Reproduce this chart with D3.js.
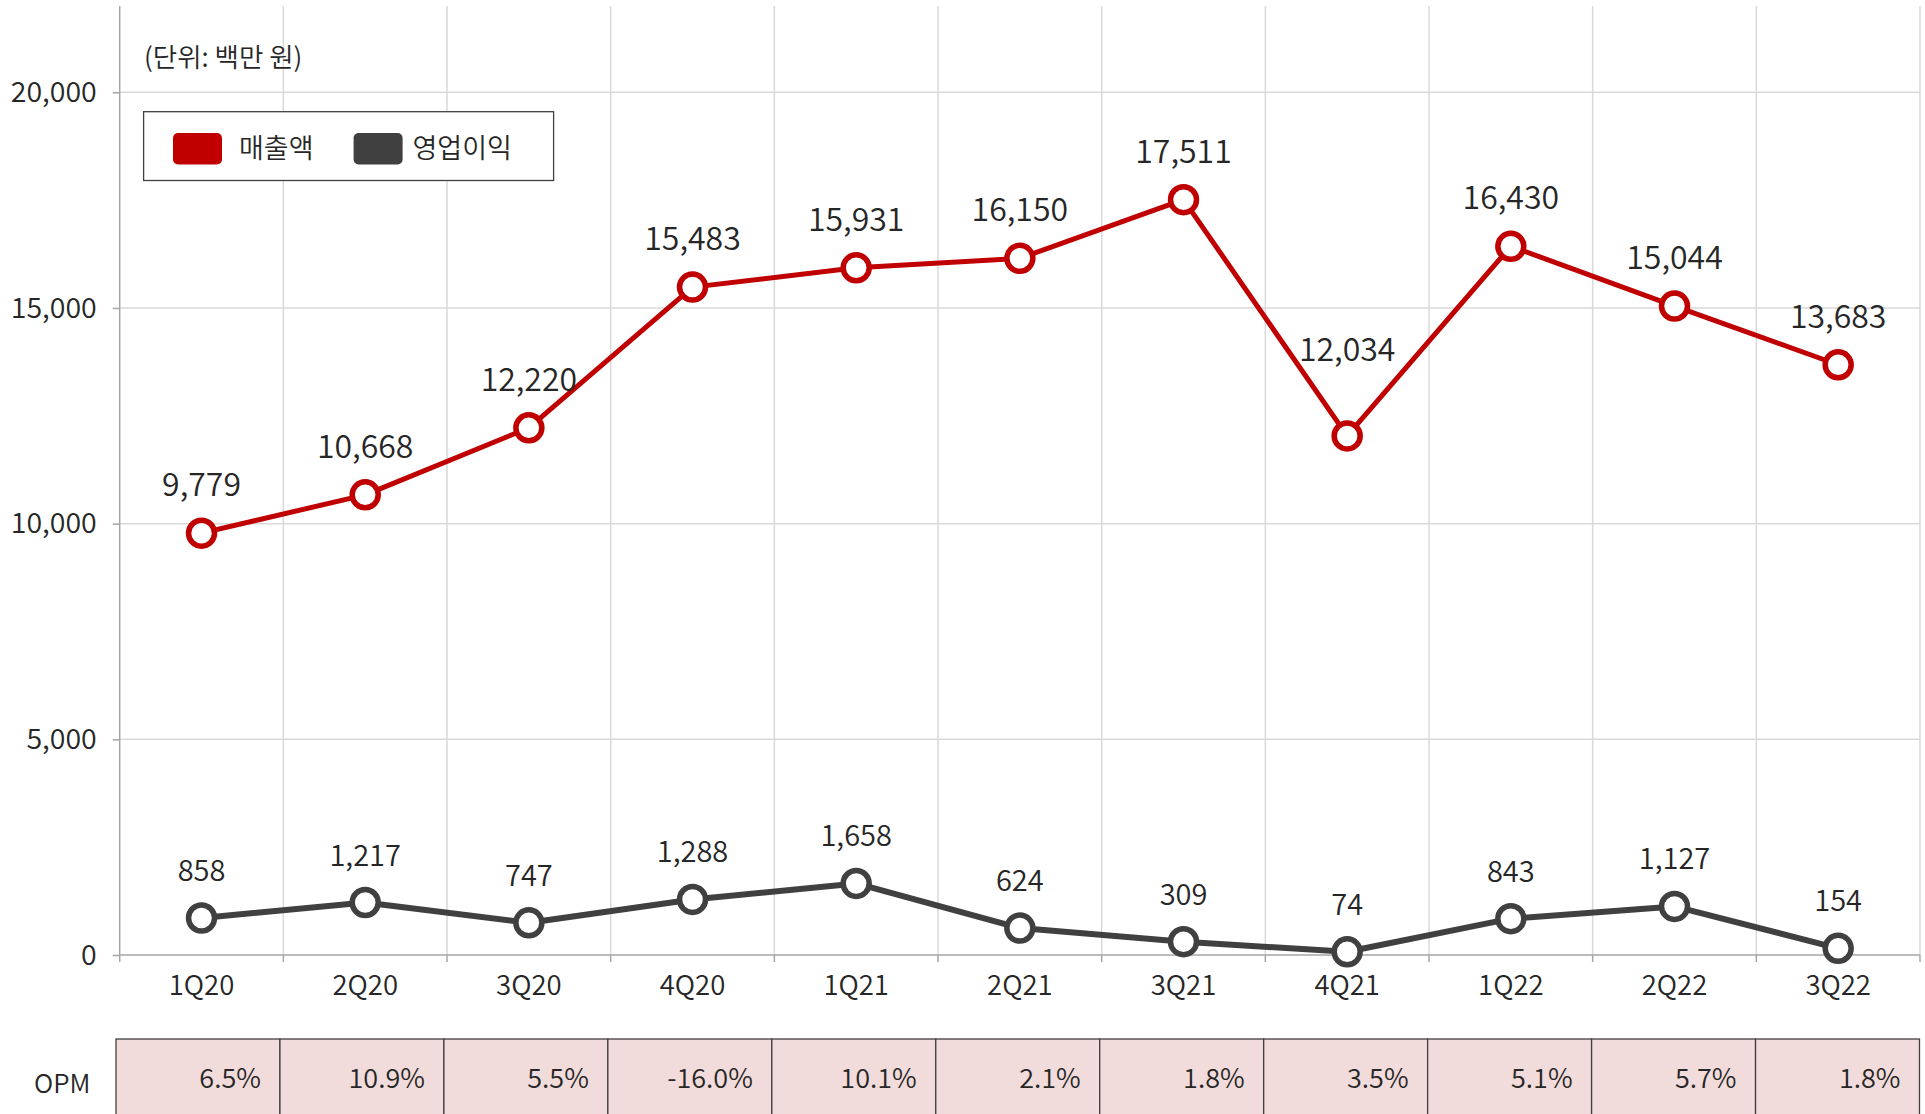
<!DOCTYPE html>
<html>
<head>
<meta charset="utf-8">
<script src="https://cdn.jsdelivr.net/npm/d3@7"></script>
<style>
  html, body { margin: 0; padding: 0; background: #fff; }
  svg { display: block; font-family: "Noto Sans CJK KR", "Noto Sans", sans-serif; }
  svg text { font-weight: 350; }
</style>
</head>
<body>
<svg id="chart" width="1925" height="1114"></svg>
<script>
const categories = ["1Q20","2Q20","3Q20","4Q20","1Q21","2Q21","3Q21","4Q21","1Q22","2Q22","3Q22"];
const revenue = [9779, 10668, 12220, 15483, 15931, 16150, 17511, 12034, 16430, 15044, 13683];
const opProfit = [858, 1217, 747, 1288, 1658, 624, 309, 74, 843, 1127, 154];
const opm = ["6.5%","10.9%","5.5%","-16.0%","10.1%","2.1%","1.8%","3.5%","5.1%","5.7%","1.8%"];
const yTicks = [0, 5000, 10000, 15000, 20000];
const seriesNames = ["매출액", "영업이익"];
const unitLabel = "(단위: 백만 원)";
const colors = ["#c00000", "#404040"];

(function () {
const svg = d3.select("#chart");
const pLeft = 119.7, pRight = 1920, pTop = 6, pBottom = 955;

const x = d3.scaleBand().domain(categories).range([pLeft, pRight]).padding(0);
const y = d3.scaleLinear().domain([0, 22000]).range([pBottom, pTop]);
const xt = d3.scaleBand().domain(categories).range([116, 1919.5]).padding(0);

// horizontal gridlines
svg.append("g").selectAll("line").data(yTicks.filter(d => d > 0)).join("line")
  .attr("x1", pLeft).attr("x2", pRight)
  .attr("y1", d => y(d)).attr("y2", d => y(d))
  .attr("stroke", "#d9d9d9").attr("stroke-width", 1.5);

// vertical gridlines at category boundaries
const bounds = categories.map(c => x(c) + x.bandwidth());
svg.append("g").selectAll("line").data(bounds).join("line")
  .attr("x1", d => d).attr("x2", d => d)
  .attr("y1", pTop).attr("y2", pBottom)
  .attr("stroke", "#d9d9d9").attr("stroke-width", 1.5);

// y axis
const yAxis = svg.append("g").attr("transform", `translate(${pLeft},0)`)
  .call(d3.axisLeft(y).tickValues(yTicks).tickSize(7).tickPadding(16).tickFormat(d3.format(",")));
yAxis.select(".domain").attr("stroke", "#a6a6a6").attr("stroke-width", 1.5)
  .attr("d", `M0,${pTop}V${pBottom}`);
yAxis.selectAll(".tick line").attr("stroke", "#a6a6a6").attr("stroke-width", 1.5);
yAxis.selectAll(".tick text").attr("fill", "#262626").style("font-size", "28.5px")
  .style("font-family", "'Noto Sans CJK KR', sans-serif");

// x axis line
svg.append("line").attr("x1", pLeft).attr("x2", pRight).attr("y1", pBottom).attr("y2", pBottom)
  .attr("stroke", "#a6a6a6").attr("stroke-width", 1.5);
svg.append("g").selectAll("line").data([pLeft, ...bounds]).join("line")
  .attr("x1", d => d).attr("x2", d => d).attr("y1", pBottom).attr("y2", pBottom + 7)
  .attr("stroke", "#a6a6a6").attr("stroke-width", 1.5);

const xAxis = svg.append("g").attr("transform", `translate(0,${pBottom})`)
  .call(d3.axisBottom(x).tickSize(0).tickPadding(20));
xAxis.select(".domain").remove();
xAxis.selectAll(".tick text").attr("fill", "#262626").style("font-size", "27.5px")
  .style("font-family", "'Noto Sans CJK KR', sans-serif");

// unit label
svg.append("text").attr("x", 144).attr("y", 67).text(unitLabel)
  .attr("fill", "#262626").style("font-size", "26.5px");

// lines
const cx = d => x(d) + x.bandwidth() / 2;
const series = [revenue, opProfit];
series.forEach((vals, si) => {
  const pts = vals.map((v, i) => [cx(categories[i]), y(v)]);
  svg.append("path").attr("d", d3.line()(pts)).attr("fill", "none")
    .attr("stroke", colors[si]).attr("stroke-width", si === 0 ? 5 : 6)
    .attr("stroke-linejoin", "round");
  svg.append("g").selectAll("circle").data(vals).join("circle")
    .attr("cx", (d, i) => cx(categories[i])).attr("cy", d => y(d))
    .attr("r", 13).attr("fill", "#fff").attr("stroke", colors[si]).attr("stroke-width", 5.5);
  // a label sitting in a deep valley is lifted clear of the incoming lines
  const isValley = (i) => si === 0 && i > 0 && i < vals.length - 1 &&
    vals[i - 1] - vals[i] > 3000 && vals[i + 1] - vals[i] > 3000;
  svg.append("g").selectAll("text").data(vals).join("text")
    .attr("x", (d, i) => cx(categories[i])).attr("y", (d, i) => y(d) - (isValley(i) ? 75 : 37))
    .attr("text-anchor", "middle").attr("fill", "#262626")
    .style("font-size", si === 0 ? "32px" : "29px")
    .text(d => d3.format(",")(d));
});

// legend
const lg = svg.append("g");
lg.append("rect").attr("x", 143.6).attr("y", 111.7).attr("width", 410).attr("height", 68.8)
  .attr("fill", "#fff").attr("stroke", "#404040").attr("stroke-width", 1.3);
const legendX = [[173, 239], [353.6, 412.5]];
seriesNames.forEach((n, i) => {
  lg.append("rect").attr("x", legendX[i][0]).attr("y", 133).attr("width", 49).attr("height", 31.5)
    .attr("rx", 5).attr("fill", colors[i]);
  lg.append("text").attr("x", legendX[i][1]).attr("y", 158).text(n)
    .attr("fill", "#262626").style("font-size", "27px");
});

// OPM table
const tTop = 1039;
const tg = svg.append("g");
tg.selectAll("rect").data(categories).join("rect")
  .attr("x", d => xt(d)).attr("y", tTop).attr("width", xt.bandwidth()).attr("height", 120)
  .attr("fill", "#f2dcdb").attr("stroke", "#404040").attr("stroke-width", 1.3);
tg.selectAll("text").data(opm).join("text")
  .attr("x", (d, i) => xt(categories[i]) + xt.bandwidth() - 19).attr("y", 1088)
  .attr("text-anchor", "end").attr("fill", "#262626").style("font-size", "27px")
  .text(d => d);
svg.append("text").attr("x", 34).attr("y", 1093).text("OPM")
  .attr("fill", "#262626").style("font-size", "26px");
})();
</script>
</body>
</html>
